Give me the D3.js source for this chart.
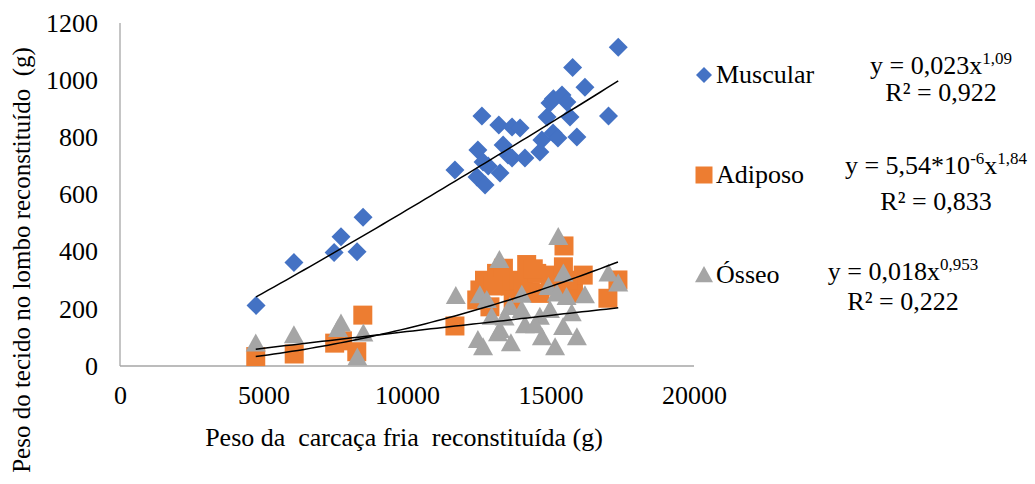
<!DOCTYPE html>
<html>
<head>
<meta charset="utf-8">
<script src="https://cdn.jsdelivr.net/npm/d3@7/dist/d3.min.js"></script>
<style>
  html, body { margin: 0; padding: 0; background: #fff; }
  svg text { font-family: "Liberation Serif", "Times New Roman", serif; fill: #000; }
</style>
</head>
<body>
<svg id="chart" width="1035" height="484"></svg>
<script>
// Tick values
const xTicks = [0, 5000, 10000, 15000, 20000];
const yTicks = [0, 200, 400, 600, 800, 1000, 1200];

// Muscular tissue (g) vs reconstituted cold carcass weight (g)
const muscX = [4740, 6060, 7460, 7700, 8260, 8470, 11670, 12610, 12470, 12650, 12440, 12720, 12830,
  13200, 13660, 13940, 13350, 13240, 13520, 13660, 14110, 14630, 14700, 14880, 14980, 15100, 15400,
  15570, 15090, 15260, 15680, 15920, 15770, 16200, 17020, 17360];
const muscY = [212, 362, 397, 452, 400, 520, 686, 875, 756, 714, 661, 633, 700,
  843, 836, 833, 773, 675, 738, 728, 728, 749, 791, 871, 920, 935, 948,
  924, 815, 798, 871, 801, 1044, 975, 875, 1115];

// Adipose tissue (g)
const adipX = [4730, 6070, 7480, 7750, 8250, 8460, 11670, 12430, 12540, 12700, 12890, 13120, 13360,
  13600, 13700, 13900, 14050, 14170, 14300, 14520, 14630, 14980, 15200, 15450, 15470, 15800,
  16140, 17000, 17350, 13000, 14400, 15600];
const adipY = [33, 42, 80, 88, 50, 178, 140, 231, 266, 300, 207, 324, 342,
  280, 231, 300, 289, 355, 260, 324, 254, 318, 280, 347, 420, 254,
  318, 237, 301, 280, 340, 300];

// Bone tissue (g)
const ossX = [4730, 6060, 7600, 7700, 8480, 8270, 11700, 15270, 13220, 12540, 12780, 12950, 13590,
  14000, 13240, 13620, 12470, 12650, 13170, 14110, 14630, 14700, 15160, 14980, 14930, 15450,
  15220, 15560, 15740, 15440, 15920, 16200, 17020, 17360, 14460, 13400, 14000];
const ossY = [79, 108, 130, 149, 114, 30, 245, 452, 371, 248, 231, 173, 207,
  196, 126, 80, 91, 66, 115, 143, 173, 101, 66, 196, 277, 324,
  254, 242, 185, 137, 101, 248, 324, 289, 143, 170, 250];

// Power trendlines y = a * x^b (legend shows them rounded)
const seriesNames = ["Muscular", "Adiposo", "Ósseo"];
const seriesColors = ["#4472C4", "#ED7D31", "#A5A5A5"];
const fitA = [0.0234, 5.544e-6, 0.01849];
const fitB = [1.092, 1.844, 0.9534];
const eqMain = [["y = 0,023x", "1,09"], ["y = 5,54*10", "-6", "x", "1,84"], ["y = 0,018x", "0,953"]];
const eqR2 = ["R² = 0,922", "R² = 0,833", "R² = 0,222"];

const svg = d3.select("#chart");
svg.append("rect").attr("width", 1035).attr("height", 484).attr("fill", "#fff");

const x = d3.scaleLinear().domain([0, 20000]).range([120, 694]);
const y = d3.scaleLinear().domain([0, 1200]).range([366, 23]);

// Axes (labels only, no tick marks)
const gx = svg.append("g").attr("transform", "translate(0,366)")
  .call(d3.axisBottom(x).tickValues(xTicks).tickSize(0).tickPadding(20).tickFormat(d3.format("d")));
const gy = svg.append("g").attr("transform", "translate(120,0)")
  .call(d3.axisLeft(y).tickValues(yTicks).tickSize(0).tickPadding(22).tickFormat(d3.format("d")));
[gx, gy].forEach(g => {
  g.select(".domain").remove();
  g.selectAll("text").style("font-family", "'Liberation Serif', 'Times New Roman', serif")
    .style("font-size", "26px").attr("fill", "#000");
});

// Axis lines
svg.append("line").attr("x1", x(0)).attr("x2", x(20000)).attr("y1", y(0)).attr("y2", y(0))
  .attr("stroke", "#A6A6A6").attr("stroke-width", 1.3);
svg.append("line").attr("x1", x(0)).attr("x2", x(0)).attr("y1", y(0)).attr("y2", y(1200))
  .attr("stroke", "#A6A6A6").attr("stroke-width", 1.3);

// Marker shapes: diamond, square, triangle
function markerPath(kind, s) {
  const h = s / 2;
  if (kind === 0) return `M0,${-h}L${h},0L0,${h}L${-h},0Z`;
  if (kind === 1) return `M${-h},${-h}H${h}V${h}H${-h}Z`;
  const th = s * 0.9;
  return `M0,${-th * 0.55}L${h},${th * 0.45}L${-h},${th * 0.45}Z`;
}
const sizes = [19, 19, 20];

const seriesX = [muscX, adipX, ossX];
const seriesY = [muscY, adipY, ossY];

seriesX.forEach((xs, k) => {
  const pts = xs.map((v, i) => [v, seriesY[k][i]]);
  svg.append("g").selectAll("path").data(pts).join("path")
    .attr("d", markerPath(k, sizes[k]))
    .attr("transform", d => `translate(${x(d[0])},${y(d[1])})`)
    .attr("fill", seriesColors[k]);
});

// Trendlines over each series' x range
seriesX.forEach((xs, k) => {
  const [x0, x1] = d3.extent(xs);
  const samples = d3.range(0, 61).map(i => x0 + (x1 - x0) * i / 60);
  const line = d3.line().x(d => x(d)).y(d => y(fitA[k] * Math.pow(d, fitB[k])));
  svg.append("path").datum(samples).attr("d", line)
    .attr("fill", "none").attr("stroke", "#000").attr("stroke-width", 1.5);
});

// Axis titles
svg.append("text").attr("x", 404).attr("y", 446).attr("text-anchor", "middle")
  .style("font-size", "26px").style("white-space", "pre").attr("xml:space", "preserve")
  .text("Peso da  carcaça fria  reconstituída (g)");
svg.append("text").attr("transform", "translate(30,260) rotate(-90)").attr("text-anchor", "middle")
  .style("font-size", "25px").style("white-space", "pre").attr("xml:space", "preserve")
  .text("Peso do tecido no lombo reconstituído  (g)");

// Legend
const legY = [75, 175, 275];
const legMarker = [16, 17, 18];
seriesNames.forEach((name, k) => {
  svg.append("path").attr("d", markerPath(k, legMarker[k]))
    .attr("transform", `translate(704,${legY[k]})`).attr("fill", seriesColors[k]);
  svg.append("text").attr("x", 716).attr("y", legY[k] + 8).style("font-size", "26px").text(name);
});

// Trendline equations
const eqCx = [941, 936, 903];
const eqBase = [74, 174, 280];
const r2Base = [101, 210, 310];
eqMain.forEach((parts, k) => {
  const t = svg.append("text").attr("x", eqCx[k]).attr("y", eqBase[k]).attr("text-anchor", "middle")
    .style("font-size", "26px");
  parts.forEach((p, i) => {
    const sup = i % 2 === 1;
    t.append("tspan").text(p)
      .style("font-size", sup ? "17px" : "26px")
      .attr("baseline-shift", sup ? "60%" : null);
  });
  svg.append("text").attr("x", eqCx[k]).attr("y", r2Base[k]).attr("text-anchor", "middle")
    .style("font-size", "26px").text(eqR2[k]);
});
</script>
</body>
</html>
